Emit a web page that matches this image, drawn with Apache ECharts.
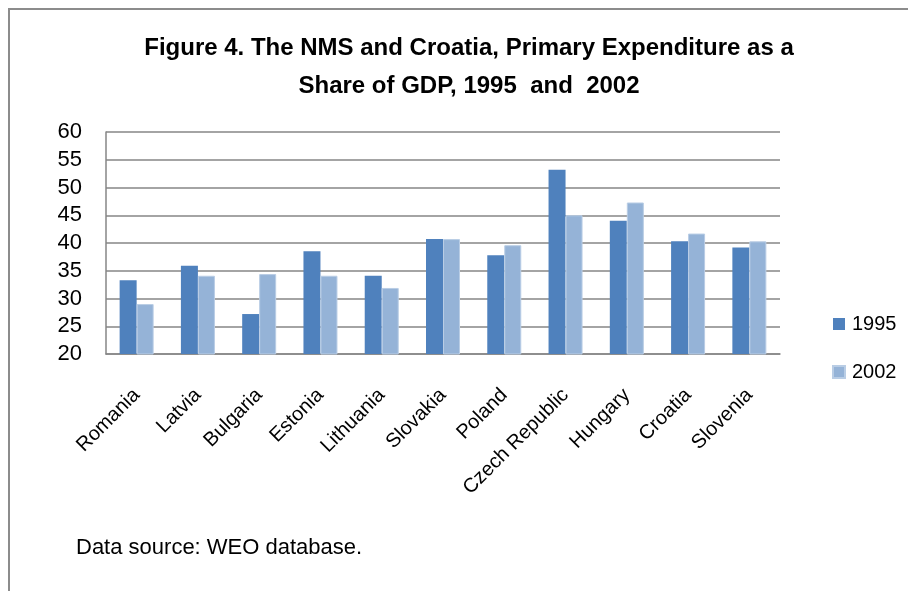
<!DOCTYPE html>
<html>
<head>
<meta charset="utf-8">
<script src="https://cdn.jsdelivr.net/npm/echarts@6/dist/echarts.min.js"></script>
<style>
  html, body { margin: 0; padding: 0; background: #fff; }
  #chart { width: 908px; height: 591px; }
</style>
</head>
<body>
<div id="chart"></div>
<script>
// values (% of GDP)
const countries = ['Romania', 'Latvia', 'Bulgaria', 'Estonia', 'Lithuania', 'Slovakia',
  'Poland', 'Czech Republic', 'Hungary', 'Croatia', 'Slovenia'];
const exp1995 = [33.3, 35.9, 27.2, 38.5, 34.1, 40.7, 37.8, 53.2, 44.0, 40.3, 39.2];
const exp2002 = [29.0, 34.1, 34.4, 34.1, 31.9, 40.7, 39.6, 45.0, 47.3, 41.7, 40.3];
const seriesNames = ['1995', '2002'];

const titleLines = ['Figure 4. The NMS and Croatia, Primary Expenditure as a', 'Share of GDP, 1995  and  2002'];
const sourceNote = 'Data source: WEO database.';

const chart = echarts.init(document.getElementById('chart'));

const axisGrey = '#868686';
const font = '"Liberation Sans Narrow", "Liberation Sans", sans-serif';

const option = {
  animation: false,
  textStyle: { fontFamily: font },
  title: {
    text: titleLines.join('\n'),
    left: 464,
    textAlign: 'center',
    top: 24,
    textStyle: {
      fontFamily: font,
      fontWeight: 'bold',
      fontSize: 24,
      lineHeight: 38,
      color: '#000'
    }
  },
  legend: {
    orient: 'vertical',
    left: 827,
    top: 309,
    itemWidth: 12,
    itemHeight: 12,
    itemGap: 28,
    icon: 'rect',
    textStyle: { fontFamily: font, fontSize: 20, color: '#000', padding: [0, 0, 0, 2] },
    data: seriesNames
  },
  grid: { left: 106, right: 128, top: 132, bottom: 237 },
  xAxis: {
    type: 'category',
    data: countries,
    axisLine: { lineStyle: { color: axisGrey, width: 1.5 } },
    axisTick: { show: false },
    axisLabel: {
      rotate: 45,
      interval: 0,
      margin: 38,
      fontFamily: font,
      fontSize: 20,
      color: '#000'
    }
  },
  yAxis: {
    type: 'value',
    min: 20,
    max: 60,
    interval: 5,
    axisLine: { show: true, lineStyle: { color: axisGrey, width: 1.5 } },
    axisTick: { show: false },
    splitLine: { lineStyle: { color: axisGrey, width: 1.5 } },
    axisLabel: { fontFamily: font, fontSize: 22, color: '#000', margin: 24 }
  },
  series: [
    {
      name: seriesNames[0],
      type: 'bar',
      data: exp1995,
      barWidth: 17,
      barGap: '0%',
      itemStyle: { color: '#4F81BD' }
    },
    {
      name: seriesNames[1],
      type: 'bar',
      data: exp2002,
      barWidth: 17,
      itemStyle: { color: '#95B3D7', borderColor: '#B9CDE5', borderWidth: 1 }
    }
  ],
  graphic: [
    {
      type: 'polyline',
      shape: { points: [[9, 591], [9, 9], [908, 9]] },
      style: { stroke: '#8c8c8c', lineWidth: 2, fill: null }
    },
    {
      type: 'text',
      left: 76,
      top: 537,
      style: { text: sourceNote, fontFamily: font, fontSize: 22, fill: '#000' }
    }
  ]
};

chart.setOption(option);
</script>
</body>
</html>
